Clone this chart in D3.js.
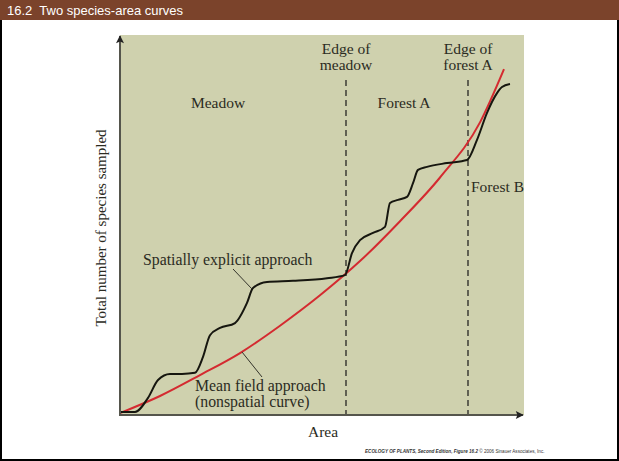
<!DOCTYPE html>
<html>
<head>
<meta charset="utf-8">
<script src="https://cdn.jsdelivr.net/npm/d3@7"></script>
<style>
  body { margin: 0; background: #fff; }
  svg { display: block; }
</style>
</head>
<body>
<div id="chart"></div>
<script>
// species-area curves (area 0-100, species 0-100)
var spatialArea = [0, 3.75, 7, 9.5, 12.5, 15.5, 18.75, 20.75, 22.5, 25, 28.75, 31.75, 33.25, 36.75, 43.25, 51.75, 56.25, 58, 60, 63.25, 66.25, 67.5, 69.5, 71.75, 73.25, 74.5, 76.75, 81.75, 86.75, 89.25, 91.75, 94.25, 95.5, 97.5];
var spatialSpecies = [0.8, 0.8, 4.5, 9.2, 10.8, 10.8, 11.1, 15.3, 21, 22.9, 24.2, 29.5, 33.4, 35, 35.3, 36, 36.8, 42.6, 46, 47.9, 49.5, 55.8, 56.6, 57.4, 61, 64.5, 65.3, 66.3, 67.1, 72.4, 79.5, 84.7, 86.3, 87.1];
var meanArea = [0, 10, 20, 30, 40, 50, 60, 70, 80, 90, 96];
var meanSpecies = [0.5, 5, 10.5, 16.3, 23.5, 31.5, 40.5, 51, 62.5, 77, 91];
var edges = [56.5, 87];
var edgeLabels = [["Edge of", "meadow"], ["Edge of", "forest A"]];

var W = 619, H = 461;
var svg = d3.select("#chart").append("svg")
    .attr("width", W)
    .attr("height", H);

// frame + title bar
svg.append("rect").attr("x", 1).attr("y", 1).attr("width", W - 2).attr("height", H - 2)
    .attr("fill", "#fff").attr("stroke", "#000").attr("stroke-width", 2);
svg.append("rect").attr("x", 0).attr("y", 0).attr("width", W).attr("height", 20)
    .attr("fill", "#7b432b");
svg.append("text").attr("x", 7).attr("y", 15)
    .attr("fill", "#fff").style("font", "13px 'Liberation Sans', Arial, sans-serif")
    .style("white-space", "pre")
    .text("16.2  Two species-area curves");

var plotL = 120, plotR = 524, plotT = 35, plotB = 415;
var x = d3.scaleLinear().domain([0, 100]).range([plotL, 520]);
var y = d3.scaleLinear().domain([0, 100]).range([plotB, plotT]);

svg.append("rect").attr("x", plotL).attr("y", plotT)
    .attr("width", plotR - plotL).attr("height", plotB - plotT)
    .attr("fill", "#cfd1ae");

var serif = "'Liberation Serif', 'DejaVu Serif', serif";
var ink = "#2b2b22";

// dashed edges
svg.selectAll(".edge").data(edges).enter().append("line")
    .attr("class", "edge")
    .attr("x1", function(d) { return x(d); }).attr("x2", function(d) { return x(d); })
    .attr("y1", 80).attr("y2", plotB)
    .attr("stroke", "#45453c").attr("stroke-width", 1.6)
    .attr("stroke-dasharray", "6,4");

edges.forEach(function(e, i) {
  var t = svg.append("text").attr("x", x(e)).attr("y", 54)
      .attr("text-anchor", "middle").attr("fill", ink)
      .style("font", "15.5px " + serif);
  t.append("tspan").attr("x", x(e)).text(edgeLabels[i][0]);
  t.append("tspan").attr("x", x(e)).attr("dy", 16).text(edgeLabels[i][1]);
});

svg.append("text").attr("x", 218).attr("y", 108).attr("text-anchor", "middle")
    .attr("fill", ink).style("font", "15.5px " + serif).text("Meadow");
svg.append("text").attr("x", 404).attr("y", 108).attr("text-anchor", "middle")
    .attr("fill", ink).style("font", "15.5px " + serif).text("Forest A");
svg.append("text").attr("x", 471).attr("y", 192)
    .attr("fill", ink).style("font", "15.5px " + serif).text("Forest B");

// curves
var line = d3.line()
    .x(function(d) { return x(d[0]); })
    .y(function(d) { return y(d[1]); })
    .curve(d3.curveMonotoneX);

svg.append("path")
    .datum(d3.zip(meanArea, meanSpecies))
    .attr("fill", "none").attr("stroke", "#d42a30").attr("stroke-width", 2)
    .attr("d", line);

svg.append("path")
    .datum(d3.zip(spatialArea, spatialSpecies))
    .attr("fill", "none").attr("stroke", "#16160f").attr("stroke-width", 2)
    .attr("d", line);

// axes
var defs = svg.append("defs");
defs.append("marker").attr("id", "arrow")
    .attr("viewBox", "0 0 10 10").attr("refX", 9).attr("refY", 5)
    .attr("markerWidth", 6).attr("markerHeight", 4)
    .attr("markerUnits", "strokeWidth")
    .attr("orient", "auto")
  .append("path").attr("d", "M0,0L10,5L0,10L2,5Z").attr("fill", "#222");

var xAxis = svg.append("g")
    .attr("transform", "translate(0," + plotB + ")")
    .call(d3.axisBottom(x).tickValues([]).tickSizeOuter(0));
xAxis.select(".domain").attr("stroke", "#55554c").attr("stroke-width", 2)
    .attr("d", "M" + (plotL - 1) + ",0H" + (plotR - 1))
    .attr("marker-end", "url(#arrow)");

var yAxis = svg.append("g")
    .attr("transform", "translate(" + plotL + ",0)")
    .call(d3.axisLeft(y).tickValues([]).tickSizeOuter(0));
yAxis.select(".domain").attr("stroke", "#55554c").attr("stroke-width", 2)
    .attr("d", "M0," + (plotB + 1) + "V" + (plotT + 1))
    .attr("marker-end", "url(#arrow)");

// axis titles
svg.append("text").attr("x", 323).attr("y", 437).attr("text-anchor", "middle")
    .attr("fill", ink).style("font", "15.5px " + serif).text("Area");
svg.append("text")
    .attr("transform", "translate(106,228) rotate(-90)")
    .attr("text-anchor", "middle").attr("fill", ink)
    .style("font", "15px " + serif).text("Total number of species sampled");

// annotations
svg.append("text").attr("x", 143).attr("y", 265)
    .attr("fill", ink).style("font", "15.8px " + serif).text("Spatially explicit approach");
svg.append("line").attr("x1", 233).attr("y1", 269).attr("x2", 252).attr("y2", 289)
    .attr("stroke", "#33332a").attr("stroke-width", 1);

var mf = svg.append("text").attr("x", 195).attr("y", 391)
    .attr("fill", ink).style("font", "15.8px " + serif);
mf.append("tspan").attr("x", 195).text("Mean field approach");
mf.append("tspan").attr("x", 195).attr("dy", 16).text("(nonspatial curve)");
svg.append("line").attr("x1", 242).attr("y1", 352).attr("x2", 262).attr("y2", 377)
    .attr("stroke", "#33332a").attr("stroke-width", 1);

// credit line
var cr = svg.append("text").attr("x", 365).attr("y", 453)
    .attr("fill", "#333").style("font", "4.6px 'Liberation Sans', Arial, sans-serif");
cr.append("tspan").style("font-weight", "bold").style("font-style", "italic")
    .text("ECOLOGY OF PLANTS, Second Edition, Figure 16.2");
cr.append("tspan").text("  \u00a9 2006 Sinauer Associates, Inc.");
</script>
</body>
</html>
